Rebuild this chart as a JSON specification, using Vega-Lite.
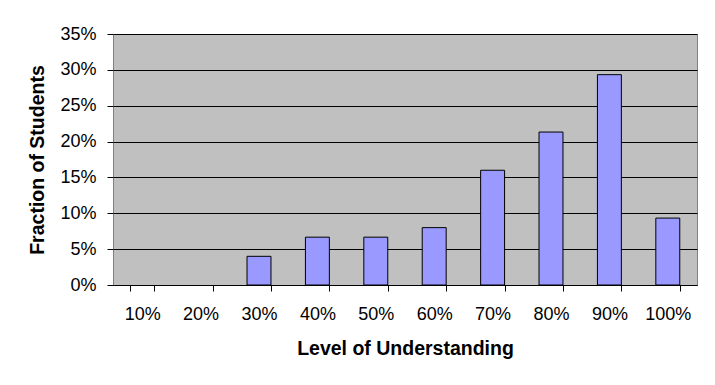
{
  "$schema": "https://vega.github.io/schema/vega-lite/v6.json",
  "width": 584,
  "height": 251,
  "autosize": "none",
  "padding": {"left": 113, "top": 34, "right": 18, "bottom": 100},
  "background": "white",
  "data": {
    "values": [
      {"level": "10%", "fraction": 0},
      {"level": "20%", "fraction": 0},
      {"level": "30%", "fraction": 0.04},
      {"level": "40%", "fraction": 0.0667},
      {"level": "50%", "fraction": 0.0667},
      {"level": "60%", "fraction": 0.08},
      {"level": "70%", "fraction": 0.16},
      {"level": "80%", "fraction": 0.2133},
      {"level": "90%", "fraction": 0.2933},
      {"level": "100%", "fraction": 0.0933}
    ]
  },
  "mark": {"type": "bar", "fill": "#9999FF", "stroke": "black", "strokeWidth": 1},
  "encoding": {
    "x": {
      "field": "level",
      "type": "ordinal",
      "sort": ["10%", "20%", "30%", "40%", "50%", "60%", "70%", "80%", "90%", "100%"],
      "scale": {"paddingInner": 0.59, "paddingOuter": 0.295},
      "axis": {
        "title": "Level of Understanding",
        "labelAngle": 0,
        "tickBand": "extent",
        "domainColor": "black",
        "tickColor": "black",
        "tickSize": 6,
        "labelPadding": 14,
        "titlePadding": 16
      }
    },
    "y": {
      "field": "fraction",
      "type": "quantitative",
      "scale": {"domain": [0, 0.35], "nice": false},
      "axis": {
        "title": "Fraction of Students",
        "format": ".0%",
        "values": [0, 0.05, 0.1, 0.15, 0.2, 0.25, 0.3, 0.35],
        "grid": true,
        "gridColor": "black",
        "gridOpacity": 1,
        "domain": false,
        "tickColor": "black",
        "tickSize": 6,
        "labelPadding": 11,
        "titlePadding": 12
      }
    },
    "strokeOpacity": {"condition": {"test": "datum.fraction == 0", "value": 0}, "value": 1}
  },
  "config": {
    "font": "Liberation Sans",
    "view": {"fill": "#C0C0C0", "stroke": "#808080", "strokeWidth": 1},
    "axis": {
      "labelFont": "Liberation Sans",
      "labelFontSize": 18,
      "labelColor": "black",
      "titleFont": "Liberation Sans",
      "titleFontSize": 19.5,
      "titleFontWeight": "bold",
      "titleColor": "black",
      "tickWidth": 1,
      "domainWidth": 1,
      "gridWidth": 1
    }
  }
}
